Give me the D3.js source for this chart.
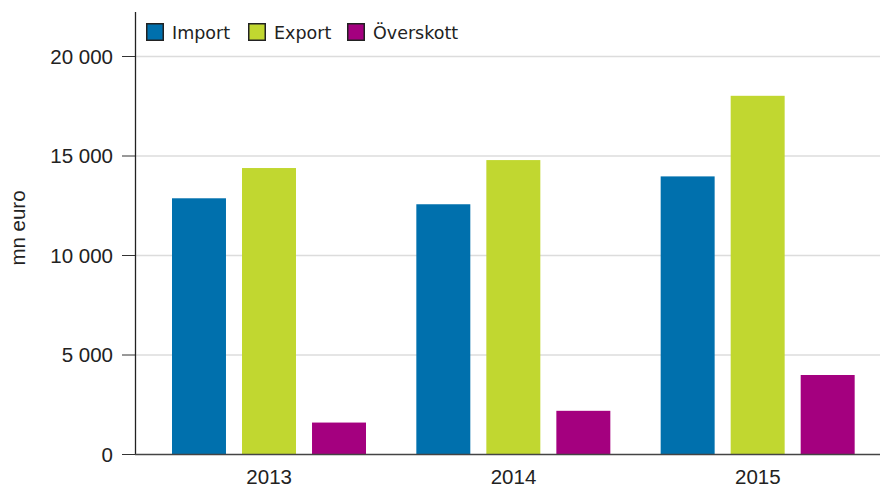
<!DOCTYPE html>
<html><head><meta charset="utf-8">
<script src="https://cdn.jsdelivr.net/npm/d3@7"></script>
<style>body{margin:0;background:#fff}svg{display:block}</style>
</head><body>
<svg id="c" width="880" height="490"></svg>
<script>
const years = ["2013", "2014", "2015"];
const seriesNames = ["Import", "Export", "Överskott"];
const importVals = [12850, 12550, 13950];
const exportVals = [14370, 14770, 18000];
const surplusVals = [1580, 2170, 3970];
const yTicks = [0, 5000, 10000, 15000, 20000];
const colors = ["#0070ad", "#c1d730", "#a4007f"];
const yLabel = "mn euro";

const svg = d3.select("#c");
const W = 880, H = 490;
const axisX = 135, base = 454;
const FONT = "Liberation Sans, Arial, sans-serif";
const x0 = d3.scaleBand().domain(years).range([147, 880]).padding(0);
const x1 = d3.scaleBand().domain(seriesNames).range([25, 219]).paddingInner(0.229).paddingOuter(0);
const y = d3.scaleLinear().domain([0, 20000]).range([base, 56]);
const fmt = v => d3.format(",")(v).replace(/,/g, " ");

// gridlines
svg.append("g").selectAll("line").data(yTicks.filter(d => d > 0)).join("line")
  .attr("x1", axisX).attr("x2", W).attr("y1", d => y(d) + 0.5).attr("y2", d => y(d) + 0.5)
  .attr("stroke", "#dcdcdc").attr("stroke-width", 1.5);

const data = years.map((yr, i) => ({ yr, vals: [importVals[i], exportVals[i], surplusVals[i]] }));
svg.append("g").selectAll("g").data(data).join("g")
  .attr("transform", d => `translate(${x0(d.yr)},0)`)
  .selectAll("rect").data(d => d.vals.map((v, j) => ({ v, s: seriesNames[j], c: colors[j] }))).join("rect")
  .attr("x", d => x1(d.s)).attr("width", x1.bandwidth())
  .attr("y", d => y(d.v)).attr("height", d => base - y(d.v))
  .attr("fill", d => d.c);

// y axis
const ya = svg.append("g").attr("transform", `translate(${axisX},0)`)
  .call(d3.axisLeft(y).tickValues(yTicks).tickSize(13).tickPadding(9).tickFormat(fmt));
ya.select(".domain").remove();
ya.selectAll("text").attr("font-family", FONT).attr("font-size", 20.5).attr("dy", "0.35em").attr("fill", "#222");
ya.selectAll("line").attr("stroke", "#333");
svg.append("line").attr("x1", axisX + 0.5).attr("x2", axisX + 0.5).attr("y1", 12).attr("y2", base).attr("stroke", "#222").attr("stroke-width", 1.3);

// x axis
const xa = svg.append("g").attr("transform", `translate(0,${base})`)
  .call(d3.axisBottom(x0).tickSize(0).tickPadding(0));
xa.select(".domain").remove();
xa.selectAll("text").attr("font-family", FONT).attr("font-size", 20.5).attr("dy", null).attr("y", 30).attr("fill", "#222");
svg.append("line").attr("x1", axisX).attr("x2", W).attr("y1", base + 0.5).attr("y2", base + 0.5).attr("stroke", "#444").attr("stroke-width", 1.5);

svg.append("text").attr("transform", `translate(25,228) rotate(-90)`).attr("text-anchor", "middle")
  .attr("font-family", FONT).attr("font-size", 20.5).attr("fill", "#222").text(yLabel);

// legend
const legX = [146, 248, 347];
const leg = svg.append("g").selectAll("g").data(seriesNames).join("g")
  .attr("transform", (d, i) => `translate(${legX[i]},23)`);
leg.append("rect").attr("x", 0.75).attr("y", 0.75).attr("width", 16.5).attr("height", 16.5)
  .attr("fill", (d, i) => colors[i]).attr("stroke", "#222").attr("stroke-width", 1.5);
leg.append("text").attr("x", 26).attr("y", 16).attr("font-family", "DejaVu Sans, Verdana, sans-serif")
  .attr("font-size", 17.5).attr("fill", "#222").text(d => d);
</script>
</body></html>
